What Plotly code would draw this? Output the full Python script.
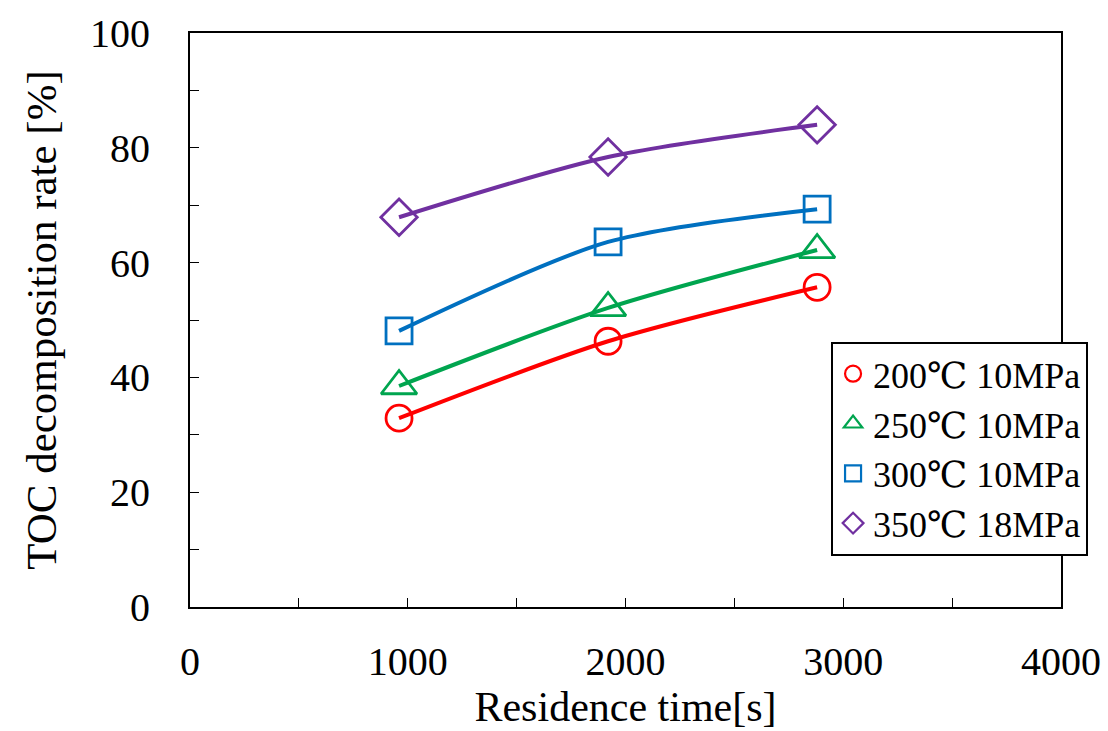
import plotly.graph_objects as go

# Residence time [s]
residence_time = [960, 1920, 2880]

# TOC decomposition rate [%] per condition
rate_200C_10MPa = [32.9, 46.3, 55.7]
rate_250C_10MPa = [38.5, 52.1, 62.2]
rate_300C_10MPa = [48.1, 63.6, 69.3]
rate_350C_18MPa = [67.9, 78.4, 84.0]

series_names = ["200℃ 10MPa", "250℃ 10MPa", "300℃ 10MPa", "350℃ 18MPa"]
series_values = [rate_200C_10MPa, rate_250C_10MPa, rate_300C_10MPa, rate_350C_18MPa]
series_colors = ["#ff0000", "#00a54f", "#0070c0", "#7030a0"]
series_symbols = ["circle-open", "triangle-up-open", "square-open", "diamond-open"]
marker_sizes = [26, 31, 26, 28]

x_ticks = [0, 1000, 2000, 3000, 4000]
y_ticks = [0, 20, 40, 60, 80, 100]

FONT = "Liberation Serif, Times New Roman, DejaVu Serif, serif"

fig = go.Figure()

for name, vals, col, sym, msize in zip(series_names, series_values, series_colors,
                                       series_symbols, marker_sizes):
    # smoothed curve with large open markers
    fig.add_trace(go.Scatter(
        x=residence_time, y=vals, mode="lines+markers",
        line=dict(color=col, width=4, shape="spline", smoothing=0.8),
        marker=dict(symbol=sym, size=msize, color=col, line=dict(width=2.8, color=col)),
        showlegend=False, hoverinfo="x+y", name=name,
    ))
    # marker-only entry for the legend
    fig.add_trace(go.Scatter(
        x=[None], y=[None], mode="markers", name=name,
        marker=dict(symbol=sym, size=16, color=col, line=dict(width=2.2, color=col)),
        legendgroup=name,
    ))

axis_common = dict(
    showgrid=False, zeroline=False, showline=True, linecolor="black", linewidth=2,
    mirror=True, ticks="inside", ticklen=9, tickwidth=1.2, tickcolor="black",
    tickfont=dict(family=FONT, size=40, color="black"), automargin=False,
)

fig.update_xaxes(
    range=[0, 4000], tickvals=x_ticks, ticktext=[str(v) for v in x_ticks],
    minor=dict(dtick=500, ticks="inside", ticklen=9, tickcolor="black", tickwidth=1.2),
    title=dict(text="Residence time[s]", font=dict(family=FONT, size=42, color="black"), standoff=8),
    ticklabelstandoff=18,
    **axis_common,
)
fig.update_yaxes(
    range=[0, 100], tickvals=y_ticks, ticktext=[str(v) for v in y_ticks],
    minor=dict(dtick=10, ticks="inside", ticklen=9, tickcolor="black", tickwidth=1.2),
    title=dict(text="TOC decomposition rate [%]", font=dict(family=FONT, size=43, color="black"), standoff=20),
    ticklabelstandoff=30,
    **axis_common,
)

fig.update_layout(
    width=1108, height=731,
    margin=dict(l=190, r=47, t=33, b=124),
    paper_bgcolor="white", plot_bgcolor="white",
    legend=dict(
        x=0.736, y=0.462, xanchor="left", yanchor="top",
        bgcolor="white", bordercolor="black", borderwidth=2,
        font=dict(family=FONT, size=36, color="black"),
        traceorder="grouped", tracegroupgap=0,
        itemwidth=30,
    ),
)

fig.write_html("out.html")
